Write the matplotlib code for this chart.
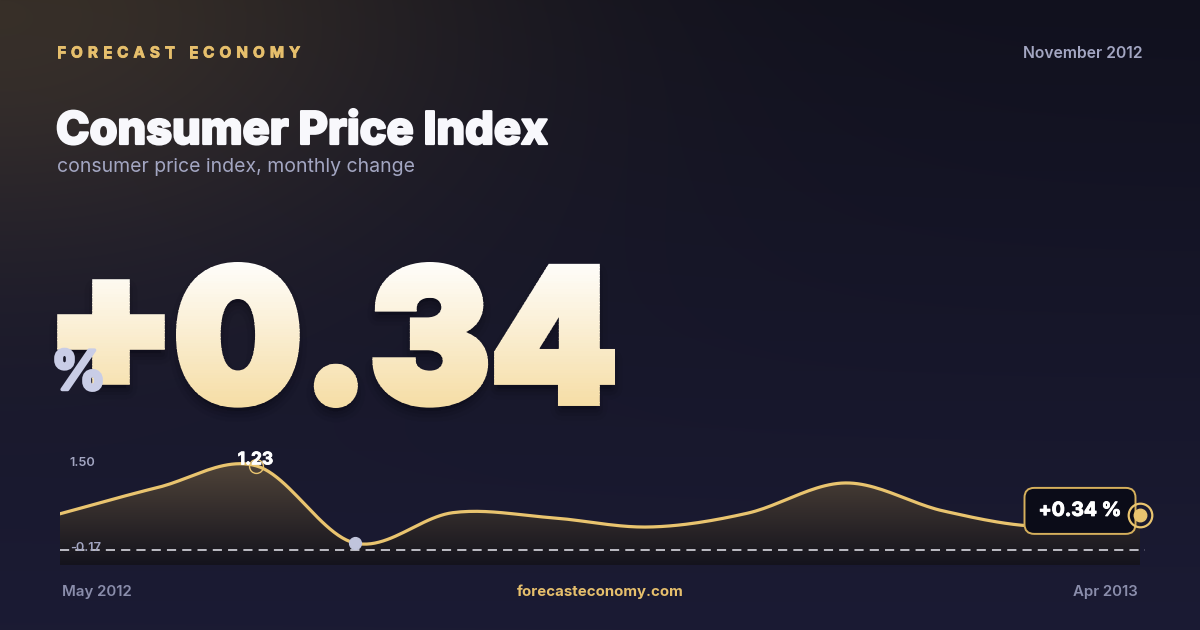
# imports
import matplotlib
matplotlib.use('Agg')
import matplotlib.pyplot as plt
import matplotlib.patheffects as pe
import numpy as np
from matplotlib.textpath import TextPath
from matplotlib.patches import PathPatch, Rectangle
from matplotlib.font_manager import FontProperties
from matplotlib.transforms import Affine2D, offset_copy

# data
months = ['May 2012', 'Jun 2012', 'Jul 2012', 'Aug 2012', 'Sep 2012', 'Oct 2012',
          'Nov 2012', 'Dec 2012', 'Jan 2013', 'Feb 2013', 'Mar 2013', 'Apr 2013']
cpi_change = [0.36, 0.84, 1.23, -0.17, 0.38, 0.29, 0.12, 0.37, 0.92, 0.41, 0.13, 0.34]
axis_top_label = 1.50
headline = '+0.34'
report_month = 'November 2012'

# colours
GOLD = '#e9c46f'
GOLD_TEXT = '#e6bf6c'
MUTED = '#a3a6c2'
FONT = ['Inter', 'DejaVu Sans']

W, H = 1200, 630
fig = plt.figure(figsize=(12, 6.3), dpi=100)

# background axes in pixel coords (y down)
bg = fig.add_axes([0, 0, 1, 1], zorder=0)
bg.set_xlim(0, W)
bg.set_ylim(H, 0)
bg.axis('off')
yy, xx = np.mgrid[0:H, 0:W]
t = yy / H
base = np.zeros((H, W, 3))
base[..., 0] = 17 + 10 * t
base[..., 1] = 17 + 10 * t
base[..., 2] = 30 + 22 * t
# warm glow top-left
glow = np.exp(-((xx / 470.0) ** 2 + (yy / 260.0) ** 2))
base[..., 0] += 38 * glow
base[..., 1] += 30 * glow
base[..., 2] += 10 * glow
bg.imshow(np.clip(base, 0, 255).astype(np.uint8), extent=(0, W, H, 0), aspect='auto', zorder=0)


def catmull_rom(x, y, n=24):
    """ uniform catmull-rom through the points, just for drawing the line """
    x = np.asarray(x, float)
    y = np.asarray(y, float)
    p = np.concatenate([[2 * y[0] - y[1]], y, [2 * y[-1] - y[-2]]])
    xs, ys = [], []
    for i in range(len(y) - 1):
        p0, p1, p2, p3 = p[i], p[i + 1], p[i + 2], p[i + 3]
        s = np.linspace(0, 1, n, endpoint=False)
        ys.append(0.5 * (2 * p1 + (-p0 + p2) * s + (2 * p0 - 5 * p1 + 4 * p2 - p3) * s ** 2
                         + (-p0 + 3 * p1 - 3 * p2 + p3) * s ** 3))
        xs.append(x[i] + (x[i + 1] - x[i]) * s)
    xs.append([x[-1]])
    ys.append([y[-1]])
    return np.concatenate(xs), np.concatenate(ys)


# chart axes
ax = fig.add_axes([60 / W, 65 / H, 1080 / W, 125 / H], zorder=1)
ax.patch.set_alpha(0)
for s in ax.spines.values():
    s.set_visible(False)
ax.set_xticks([])
ax.set_yticks([])
idx = np.arange(len(cpi_change))
ymin, ymax = -0.57, 1.70

sx, sy = catmull_rom(idx, cpi_change)

# gradient fill under the curve
fill = ax.fill_between(sx, sy, ymin, color='none', lw=0)
grad = np.linspace(0, 1, 256)[:, None]
top_c = np.array([80, 68, 57]) / 255
bot_c = np.array([20, 19, 29]) / 255
gimg = (top_c[None, None, :] * (1 - grad[..., None]) + bot_c[None, None, :] * grad[..., None])
gimg = np.repeat(gimg, 2, axis=1)
im = ax.imshow(gimg, extent=(0, len(cpi_change) - 1, ymin, 1.3), aspect='auto', zorder=1)
im.set_clip_path(fill.get_paths()[0], transform=ax.transData)
ax.set_xlim(0, len(cpi_change) - 1)
ax.set_ylim(ymin, ymax)

ax.plot(sx, sy, color=GOLD, lw=2.3, zorder=3, solid_capstyle='round')

# dashed min line (sits a few px under the min point in the reference)
lo = int(np.argmin(cpi_change))
hi = int(np.argmax(cpi_change))
dash_tr = offset_copy(ax.transData, fig=fig, y=-7, units='dots')
ax.plot([0, len(cpi_change) - 1 + 0.05], [cpi_change[lo]] * 2, color='#e8e8f0', lw=1.1,
        dashes=(6, 4), transform=dash_tr, zorder=2, clip_on=False)

# axis labels
ax.text(0.009, 0.82, f'{axis_top_label:.2f}', transform=ax.transAxes, color=MUTED,
        fontsize=9.2, family=FONT, fontweight='semibold', va='center', ha='left', zorder=4)
ax.text(0.009, 0.135, f'{cpi_change[lo]:.2f}', transform=ax.transAxes, color=MUTED,
        fontsize=9.2, family=FONT, fontweight='semibold', va='center', ha='left', zorder=4)

# max point
ax.plot(idx[hi], cpi_change[hi], 'o', ms=10, mfc='none', mec=GOLD, mew=1.0, zorder=4, clip_on=False)
ax.annotate(f'{cpi_change[hi]:.2f}', (idx[hi], cpi_change[hi]), xytext=(-1, 6),
            textcoords='offset pixels', ha='center', va='center', color='white',
            fontsize=12.5, fontweight='bold', family=FONT, zorder=5,
            path_effects=[pe.withStroke(linewidth=0.6, foreground='white')])
# min point
ax.plot(idx[lo], cpi_change[lo], 'o', ms=8.5, color='#c0c4dc', zorder=4, clip_on=False)

# last point + value box
last = len(cpi_change) - 1
ax.annotate(f'{cpi_change[last]:+.2f} %', (idx[last], cpi_change[last]), xytext=(-60, 4),
            textcoords='offset pixels', ha='center', va='center', color='white',
            fontsize=14, fontweight='bold', family=FONT, zorder=5,
            path_effects=[pe.withStroke(linewidth=0.7, foreground='white')],
            bbox=dict(boxstyle='round,pad=0.72,rounding_size=0.5', fc='#0b0c18', ec='#d6b05c', lw=1.4))
ax.plot(idx[last], cpi_change[last], 'o', ms=17, mfc='none', mec=GOLD, mew=1.6, zorder=6, clip_on=False)
ax.plot(idx[last], cpi_change[last], 'o', ms=9, color=GOLD, zorder=6, clip_on=False)

# overlay axes for text, pixel coords
ov = fig.add_axes([0, 0, 1, 1], zorder=2)
ov.patch.set_alpha(0)
ov.set_xlim(0, W)
ov.set_ylim(H, 0)
ov.axis('off')

# letter-spaced brand
renderer = fig.canvas.get_renderer()
x = 57
for ch in 'FORECAST ECONOMY':
    tt = ov.text(x, 53, ch, color=GOLD_TEXT, fontsize=11, fontweight='bold', family=FONT,
                 va='center', ha='left',
                 path_effects=[pe.withStroke(linewidth=0.6, foreground=GOLD_TEXT)])
    w = tt.get_window_extent(renderer).width if ch != ' ' else 4
    x += w + 5.0

ov.text(1143, 54, report_month, color=MUTED, fontsize=11.3, fontweight='semibold', family=FONT,
        va='center', ha='right')
ov.text(56, 144, 'Consumer Price Index', color='#f8f8fc', fontsize=32.5, fontweight='heavy',
        family=FONT, va='baseline', ha='left',
        path_effects=[pe.withStroke(linewidth=1.6, foreground='#f8f8fc')])
ov.text(57, 167, 'consumer price index, monthly change', color=MUTED, fontsize=14,
        family=FONT, va='center', ha='left')

# big headline with vertical gradient (drawn in bands, stroked to look heavier)
fp = FontProperties(family=FONT, weight='black')
STROKE_PX = 7.6


def glyph_path(txt, x0, x1, top, bottom):
    """ text path fitted into a pixel box (y down), leaving room for the stroke """
    tp = TextPath((0, 0), txt, size=200, prop=fp)
    e = tp.get_extents()
    h = STROKE_PX / 2
    kx = (x1 - x0 - 2 * h) / e.width
    ky = (bottom - top - 2 * h) / e.height
    return Affine2D().translate(-e.x0, -e.y0).scale(kx, -ky).translate(x0 + h, bottom - h).transform_path(tp)


sign_path = glyph_path(headline[0], 57, 165, 279, 385)
num_path = glyph_path(headline[1:], 176, 615, 262, 408)
paths = [sign_path, num_path]

# soft shadow
for p in paths:
    for lw, a in [(16, 0.05), (10, 0.07), (5, 0.09)]:
        sh = PathPatch(Affine2D().translate(0, 7).transform_path(p), fc='#05050a', ec='#05050a',
                       lw=lw, alpha=a, zorder=1, joinstyle='round')
        ov.add_patch(sh)
c_top = np.array([1.0, 1.0, 1.0])
c_bot = np.array([0.96, 0.86, 0.63])
nb = 60
edges = np.linspace(254, 416, nb + 1)
for i in range(nb):
    f = i / (nb - 1)
    c = c_top * (1 - f) + c_bot * f
    band = Rectangle((0, edges[i] - 0.3), W, edges[i + 1] - edges[i] + 0.6, transform=ov.transData)
    for p in paths:
        pp = PathPatch(p, fc=c, ec=c, lw=STROKE_PX * 0.72, joinstyle='miter', zorder=2)
        ov.add_patch(pp)
        pp.set_clip_path(band)

ov.text(51, 375, '%', color='#c9cde6', fontsize=39, fontweight='bold', family=FONT,
        va='center', ha='left', zorder=3,
        path_effects=[pe.withStroke(linewidth=2.5, foreground='#c9cde6')])

# footer
ov.text(62, 592, months[0], color='#8a8dab', fontsize=10.8, fontweight='semibold', family=FONT,
        va='center', ha='left')
ov.text(1138, 592, months[-1], color='#8a8dab', fontsize=10.8, fontweight='semibold', family=FONT,
        va='center', ha='right')
ov.text(600, 592, 'forecasteconomy.com', color=GOLD_TEXT, fontsize=10.8, fontweight='bold',
        family=FONT, va='center', ha='center')

ov.set_xlim(0, W)
ov.set_ylim(H, 0)
fig.savefig('out.png', dpi=100)
